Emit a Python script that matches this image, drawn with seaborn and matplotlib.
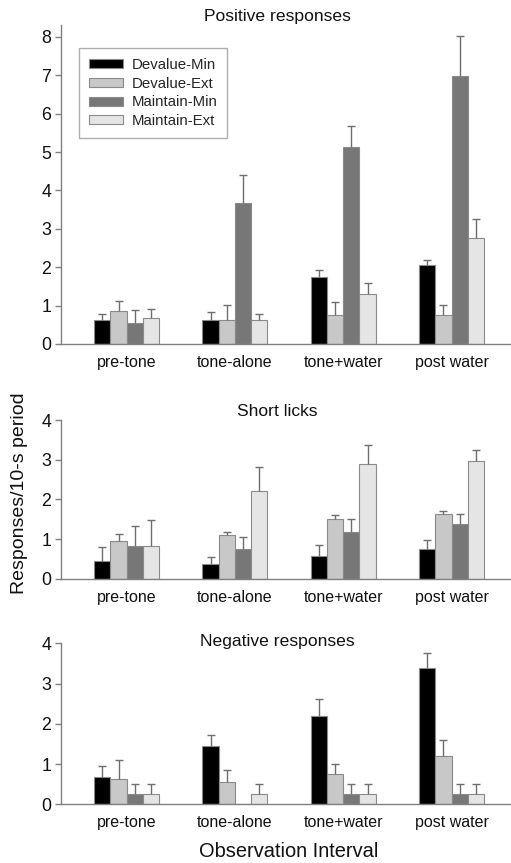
import numpy as np
import pandas as pd
import matplotlib
matplotlib.use("Agg")
import matplotlib.pyplot as plt
import seaborn as sns

# ---------------- data ----------------
intervals = ["pre-tone", "tone-alone", "tone+water", "post water"]
groups = ["Devalue-Min", "Devalue-Ext", "Maintain-Min", "Maintain-Ext"]

# Positive responses (means and SEM)
pos_devalue_min = [0.62, 0.62, 1.74, 2.05]
pos_devalue_ext = [0.87, 0.62, 0.75, 0.75]
pos_maintain_min = [0.56, 3.68, 5.13, 6.99]
pos_maintain_ext = [0.68, 0.62, 1.31, 2.75]
pos_devalue_min_err = [0.16, 0.21, 0.18, 0.13]
pos_devalue_ext_err = [0.26, 0.39, 0.34, 0.26]
pos_maintain_min_err = [0.33, 0.73, 0.56, 1.03]
pos_maintain_ext_err = [0.22, 0.16, 0.29, 0.51]

# Short licks
lick_devalue_min = [0.44, 0.37, 0.56, 0.76]
lick_devalue_ext = [0.94, 1.09, 1.50, 1.63]
lick_maintain_min = [0.82, 0.76, 1.18, 1.38]
lick_maintain_ext = [0.82, 2.20, 2.88, 2.96]
lick_devalue_min_err = [0.36, 0.18, 0.28, 0.22]
lick_devalue_ext_err = [0.19, 0.09, 0.11, 0.07]
lick_maintain_min_err = [0.51, 0.30, 0.33, 0.24]
lick_maintain_ext_err = [0.65, 0.61, 0.48, 0.28]

# Negative responses
neg_devalue_min = [0.69, 1.45, 2.19, 3.38]
neg_devalue_ext = [0.62, 0.56, 0.75, 1.19]
neg_maintain_min = [0.26, 0.00, 0.26, 0.26]
neg_maintain_ext = [0.26, 0.26, 0.26, 0.26]
neg_devalue_min_err = [0.25, 0.26, 0.42, 0.38]
neg_devalue_ext_err = [0.48, 0.28, 0.24, 0.40]
neg_maintain_min_err = [0.25, 0.00, 0.25, 0.25]
neg_maintain_ext_err = [0.25, 0.25, 0.25, 0.25]

titles = ["Positive responses", "Short licks", "Negative responses"]
y_ticks_top = [0, 1, 2, 3, 4, 5, 6, 7, 8]
y_ticks_small = [0, 1, 2, 3, 4]

panels = [
    ([pos_devalue_min, pos_devalue_ext, pos_maintain_min, pos_maintain_ext],
     [pos_devalue_min_err, pos_devalue_ext_err, pos_maintain_min_err, pos_maintain_ext_err]),
    ([lick_devalue_min, lick_devalue_ext, lick_maintain_min, lick_maintain_ext],
     [lick_devalue_min_err, lick_devalue_ext_err, lick_maintain_min_err, lick_maintain_ext_err]),
    ([neg_devalue_min, neg_devalue_ext, neg_maintain_min, neg_maintain_ext],
     [neg_devalue_min_err, neg_devalue_ext_err, neg_maintain_min_err, neg_maintain_ext_err]),
]

colors = ["#000000", "#c8c8c8", "#777777", "#e5e5e5"]

# ---------------- style ----------------
sns.set_style("ticks")
plt.rcParams['font.family'] = ['Liberation Sans', 'DejaVu Sans']

W, H = 511, 863
fig = plt.figure(figsize=(W / 100, H / 100), dpi=100)

# axes boxes in pixels: (left, top, right, bottom)
boxes = [(61, 25, 511, 344), (61, 420, 511, 578.7), (61, 643.3, 511, 804.3)]
ylims = [(0, 8.31), (0, 4), (0, 4)]
title_y = [17, 411.7, 641.7]
spine_col = "#808080"

for i, ((means, errs), box) in enumerate(zip(panels, boxes)):
    l, t, r, b = box
    ax = fig.add_axes([l / W, 1 - b / H, (r - l) / W, (b - t) / H])
    rows = []
    for g, vals, ers in zip(groups, means, errs):
        for iv, v, e in zip(intervals, vals, ers):
            rows.append({"interval": iv, "group": g, "value": v, "err": e})
    df = pd.DataFrame(rows)
    sns.barplot(data=df, x="interval", y="value", hue="group", order=intervals,
                hue_order=groups, palette=colors, errorbar=None, width=0.6,
                saturation=1, edgecolor="#8a8a8a", linewidth=0.8, ax=ax,
                legend=(i == 0))
    # error bars (upper only)
    cap = 0.037
    for cont, ers in zip(ax.containers, errs):
        for bar, e in zip(cont, ers):
            if e <= 0:
                continue
            x = bar.get_x() + bar.get_width() / 2
            y = bar.get_height()
            ax.vlines(x, y, y + e, color="#6e6e6e", lw=1.0, zorder=3)
            ax.hlines(y + e, x - cap, x + cap, color="#6e6e6e", lw=1.0, zorder=3)

    ax.set_xlim(-0.606, 3.549)
    ax.set_ylim(*ylims[i])
    ax.set_yticks(y_ticks_top if i == 0 else y_ticks_small)
    ax.set_xlabel("")
    ax.set_ylabel("")
    for s in ["top", "right"]:
        ax.spines[s].set_visible(False)
    for s in ["left", "bottom"]:
        ax.spines[s].set_color(spine_col)
        ax.spines[s].set_linewidth(1.0)
    ax.tick_params(axis="y", length=4, width=1.0, color=spine_col, labelsize=12.8,
                   pad=3, labelcolor="#111111")
    ax.tick_params(axis="x", length=0, labelsize=11.5, pad=8, labelcolor="#111111")
    fig.text(277.7 / W, 1 - title_y[i] / H, titles[i], ha="center", va="center",
             fontsize=12.6, color="#111111")

    if i == 0:
        handles, labels = ax.get_legend_handles_labels()
        leg = ax.legend(handles, labels, loc="upper left",
                        bbox_to_anchor=((79 - l) / (r - l), (b - 48) / (b - t)),
                        borderaxespad=0, fontsize=10.8, frameon=True, fancybox=False,
                        edgecolor="#9a9a9a", handlelength=2.25, handleheight=0.55,
                        labelspacing=0.32, borderpad=0.65, handletextpad=0.6)
        leg.get_frame().set_linewidth(1.0)

fig.text(20 / W, 1 - 493 / H, "Responses/10-s period", rotation=90,
         ha="center", va="center", fontsize=14, color="#111111")
fig.text(289 / W, 1 - 851.7 / H, "Observation Interval", ha="center", va="center",
         fontsize=14.4, color="#111111")

fig.savefig("out.png", dpi=100)
